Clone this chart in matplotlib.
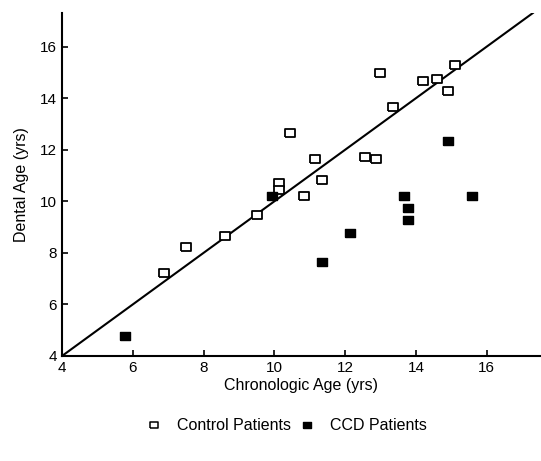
import numpy as np
import matplotlib.pyplot as plt
from matplotlib.lines import Line2D

plt.rcParams['font.family'] = ['Liberation Sans', 'DejaVu Sans']

# control patients (chronologic age, dental age)
control_x = [15.10, 12.98, 14.19, 14.59, 14.89, 13.36, 10.43, 11.14, 12.56, 12.86,
             11.33, 10.12, 10.12, 10.83, 9.50, 8.59, 7.50, 6.87]
control_y = [15.27, 14.97, 14.66, 14.75, 14.27, 13.65, 12.64, 11.64, 11.72, 11.64,
             10.81, 10.71, 10.43, 10.21, 9.47, 8.66, 8.23, 7.22]

# CCD patients
ccd_x = [9.92, 14.89, 13.66, 15.58, 13.77, 13.77, 11.33, 12.13, 5.78]
ccd_y = [10.21, 12.34, 10.21, 10.21, 9.72, 9.29, 7.63, 8.77, 4.77]

ref_line = [4, 17.3]
ticks = [4, 6, 8, 10, 12, 14, 16]

# slightly wide square marker
rect = [(-1.3, -1), (1.3, -1), (1.3, 1), (-1.3, 1), (-1.3, -1)]

fig = plt.figure(figsize=(5.41, 4.61), dpi=100)
ax = fig.add_axes([0.1146, 0.2278, 0.8835, 0.744])

ax.plot(ref_line, ref_line, color='black', lw=1.5, zorder=1)
ax.plot(control_x, control_y, ls='none', marker=rect, ms=7.5, mfc='white',
        mec='black', mew=1.3, zorder=3)
ax.plot(ccd_x, ccd_y, ls='none', marker=rect, ms=7.5, mfc='black',
        mec='black', mew=1.0, zorder=3)

ax.set_xlim(4, 17.5)
ax.set_ylim(4, 17.3)
ax.set_xticks(ticks)
ax.set_yticks(ticks)
ax.tick_params(direction='in', length=4, width=1.2, labelsize=11)
for side in ['top', 'right']:
    ax.spines[side].set_visible(False)
for side in ['left', 'bottom']:
    ax.spines[side].set_linewidth(1.5)

ax.set_xlabel("Chronologic Age (yrs)", fontsize=11.5, labelpad=2)
ax.set_ylabel("Dental Age (yrs)", fontsize=11.5, labelpad=8)

handles = [
    Line2D([], [], ls='none', marker=rect, ms=6, mfc='white', mec='black', mew=1.1),
    Line2D([], [], ls='none', marker=rect, ms=6, mfc='black', mec='black'),
]
fig.legend(handles, ["Control Patients", "CCD Patients"], loc='center',
           bbox_to_anchor=(0.529, 0.076), ncol=2, frameon=False, fontsize=11.5,
           handlelength=1.0, handletextpad=0.95, columnspacing=0.5)

plt.savefig("out.png", dpi=100)
